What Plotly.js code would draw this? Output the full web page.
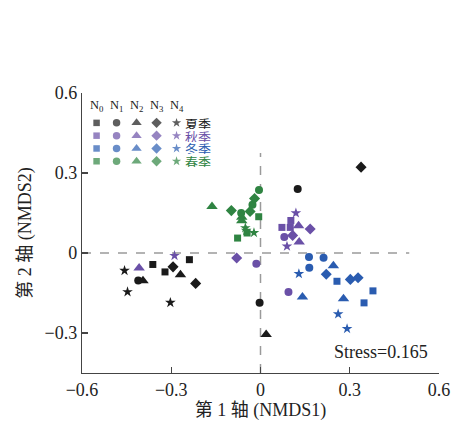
<!DOCTYPE html>
<html>
<head>
<meta charset="utf-8">
<script src="https://cdn.plot.ly/plotly-3.0.1.min.js"></script>
<style>html,body{margin:0;padding:0;background:#fff;}#chart{width:452px;height:423px;}</style>
</head>
<body>
<div id="chart"></div>
<script>
const groups = ['N<sub>0</sub>', 'N<sub>1</sub>', 'N<sub>2</sub>', 'N<sub>3</sub>', 'N<sub>4</sub>'];
const seasons = ['夏季', '秋季', '冬季', '春季'];
const symbols = ['square', 'circle', 'triangle-up', 'diamond', 'star'];
const seasonColors = ['#1a1a1a', '#6a50a7', '#2a5cb0', '#2f8442'];

// [group][replicate]
const summerX = [[-0.362, -0.239, -0.321], [-0.411, 0.125, -0.003], [-0.395, -0.269, 0.019], [-0.294, -0.218, 0.338], [-0.457, -0.447, -0.303]];
const summerY = [[-0.043, -0.025, -0.071], [-0.103, 0.240, -0.187], [-0.104, -0.082, -0.306], [-0.052, -0.114, 0.322], [-0.066, -0.146, -0.186]];
const autumnX = [[0.102, 0.072, 0.100], [0.080, -0.014, 0.094], [0.128, 0.130, -0.408], [0.167, 0.108, -0.080], [0.119, 0.089, -0.289]];
const autumnY = [[0.122, 0.096, 0.096], [0.060, -0.040, -0.146], [0.102, 0.041, -0.056], [0.090, 0.066, -0.019], [0.150, 0.025, -0.010]];
const winterX = [[0.257, 0.378, 0.348], [0.163, 0.212, 0.164], [0.245, 0.141, 0.279], [0.221, 0.302, 0.328], [0.129, 0.261, 0.291]];
const winterY = [[-0.106, -0.142, -0.187], [-0.015, -0.018, -0.055], [-0.048, -0.165, -0.172], [-0.080, -0.099, -0.093], [-0.078, -0.229, -0.284]];
const springX = [[-0.006, -0.045, -0.077], [-0.005, -0.027, -0.065], [-0.163, -0.063, -0.063], [-0.020, -0.098, -0.035], [-0.051, -0.022, -0.048]];
const springY = [[0.136, 0.075, 0.056], [0.236, 0.181, 0.150], [0.174, 0.134, 0.121], [0.204, 0.159, 0.156], [0.094, 0.076, 0.084]];

const xTicks = [-0.6, -0.3, 0, 0.3, 0.6];
const yTicks = [-0.3, 0, 0.3, 0.6];
const stressText = 'Stress=0.165';

const seasonX = [summerX, autumnX, winterX, springX];
const seasonY = [summerY, autumnY, winterY, springY];
const symSize = {'square': 7, 'circle': 8, 'triangle-up': 10, 'diamond': 8.5, 'star': 8};
const legSize = {'square': 6.5, 'circle': 7.5, 'triangle-up': 9, 'diamond': 8, 'star': 7};

const serif = 'Liberation Serif, Times New Roman, Noto Sans CJK SC, serif';
const cjk = 'Noto Sans CJK SC, sans-serif';

const traces = [];
seasons.forEach((s, si) => {
  symbols.forEach((sym, gi) => {
    traces.push({
      type: 'scatter', mode: 'markers',
      x: seasonX[si][gi], y: seasonY[si][gi],
      marker: {symbol: sym, size: symSize[sym], color: seasonColors[si], line: {width: 0}},
      showlegend: false, hoverinfo: 'x+y', cliponaxis: false
    });
  });
});

// custom legend grid (drawn in data space of the main axes)
const legX0 = -0.551, legDX = 0.0672, legY0 = 0.488, legDY = 0.048;
seasons.forEach((s, si) => {
  traces.push({
    type: 'scatter', mode: 'markers',
    x: symbols.map((_, gi) => legX0 + gi * legDX),
    y: symbols.map(() => legY0 - si * legDY),
    marker: {symbol: symbols, size: symbols.map(sym => legSize[sym]), color: seasonColors[si], line: {width: 0}},
    showlegend: false, hoverinfo: 'skip'
  });
});

const annotations = [];
groups.forEach((g, gi) => {
  annotations.push({x: legX0 + gi * legDX, y: 0.552, xref: 'x', yref: 'y', text: g, showarrow: false,
    xanchor: 'center', yanchor: 'middle', borderpad: 0, font: {family: serif, size: 12.5, color: '#222'}});
});
seasons.forEach((s, si) => {
  annotations.push({x: legX0 + 4 * legDX + 0.024, y: legY0 - si * legDY, xref: 'x', yref: 'y', text: s, showarrow: false,
    xanchor: 'left', yanchor: 'middle', height: 12, borderpad: 0, valign: 'middle',
    font: {family: cjk, size: 13, color: seasonColors[si]}});
});
annotations.push({x: 0.57, y: -0.373, xref: 'x', yref: 'y', text: stressText, showarrow: false,
  xanchor: 'right', yanchor: 'middle', font: {family: serif, size: 18, color: '#222'}});

const layout = {
  width: 452, height: 423,
  margin: {l: 82, r: 13, t: 93, b: 50, pad: 0},
  paper_bgcolor: '#fff', plot_bgcolor: '#fff',
  showlegend: false,
  xaxis: {
    range: [-0.6, 0.6], tickvals: xTicks, ticktext: xTicks.map(v => v === 0 ? '0' : (v < 0 ? '\u2212' + Math.abs(v) : String(v))),
    showgrid: false, zeroline: false, showline: true, linecolor: '#444', linewidth: 1.2,
    ticks: 'inside', ticklen: 6, tickcolor: '#444', tickwidth: 1.2,
    tickfont: {family: serif, size: 18, color: '#222'},
    title: {text: '第 1 轴 (NMDS1)', font: {family: serif, size: 18, color: '#222'}, standoff: 2}
  },
  yaxis: {
    range: [-0.45, 0.6], tickvals: yTicks, ticktext: yTicks.map(v => v === 0 ? '0' : (v < 0 ? '\u2212' + Math.abs(v) : String(v))),
    showgrid: false, zeroline: false, showline: true, linecolor: '#444', linewidth: 1.2,
    ticks: 'inside', ticklen: 6, tickcolor: '#444', tickwidth: 1.2,
    tickfont: {family: serif, size: 18, color: '#222'},
    title: {text: '第 2 轴 (NMDS2)', font: {family: serif, size: 18, color: '#222'}, standoff: 8}
  },
  shapes: [
    {type: 'line', xref: 'x', yref: 'y', x0: -0.6, x1: 0.5, y0: 0, y1: 0, line: {color: '#9a9a9a', width: 1.5, dash: 'dash'}, layer: 'below'},
    {type: 'line', xref: 'x', yref: 'y', x0: 0, x1: 0, y0: -0.45, y1: 0.375, line: {color: '#9a9a9a', width: 1.5, dash: 'dash'}, layer: 'below'}
  ],
  annotations: annotations
};

Plotly.newPlot('chart', traces, layout, {displayModeBar: false, staticPlot: true});
</script>
</body>
</html>
